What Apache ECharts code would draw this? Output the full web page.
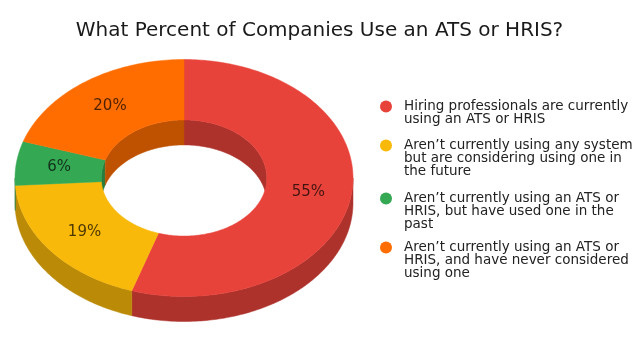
<!DOCTYPE html>
<html>
<head>
<meta charset="utf-8">
<script src="https://cdn.jsdelivr.net/npm/echarts@6/dist/echarts.min.js"></script>
<style>
html,body{margin:0;padding:0;background:#fff;}
#chart{width:639px;height:338px;}
</style>
</head>
<body>
<div id="chart"></div>
<script>
const titleText = 'What Percent of Companies Use an ATS or HRIS?';
const categories = [
  'Hiring professionals are currently using an ATS or HRIS',
  'Aren\u2019t currently using any system but are considering using one in the future',
  'Aren\u2019t currently using an ATS or HRIS, but have used one in the past',
  'Aren\u2019t currently using an ATS or HRIS, and have never considered using one'
];
const legendLines = [
  ['Hiring professionals are currently', 'using an ATS or HRIS'],
  ['Aren\u2019t currently using any system', 'but are considering using one in', 'the future'],
  ['Aren\u2019t currently using an ATS or', 'HRIS, but have used one in the', 'past'],
  ['Aren\u2019t currently using an ATS or', 'HRIS, and have never considered', 'using one']
];
const values = [55, 19, 6, 20];
const colors = ['#E8433A', '#F9B90A', '#34A853', '#FF6D00'];

// layout constants (pixels)
const CX = 184, CY = 178, RX = 169, RY = 118.5, DEPTH = 25, HOLE = 0.49;
const SHADE = 0.75;
const LEGEND_LEFT = 380, LEGEND_DOT_Y = [106, 145, 198, 247], LINE_H = 13;

function darken(hex, f) {
  const n = parseInt(hex.slice(1), 16);
  const r = Math.round(((n >> 16) & 255) * f);
  const g = Math.round(((n >> 8) & 255) * f);
  const b = Math.round((n & 255) * f);
  return 'rgb(' + r + ',' + g + ',' + b + ')';
}

function pt(rx, ry, deg, dy) {
  const t = deg * Math.PI / 180;
  return [CX + rx * Math.sin(t), CY - ry * Math.cos(t) + dy];
}
function arc(rx, ry, from, to, dy) {
  const n = Math.max(2, Math.ceil(Math.abs(to - from) / 1));
  const out = [];
  for (let j = 0; j <= n; j++) out.push(pt(rx, ry, from + (to - from) * j / n, dy));
  return out;
}

function renderSlice(i) {
  return function (params, api) {
    const total = values.reduce((a, b) => a + b, 0);
    let start = 0;
    for (let k = 0; k < i; k++) start += values[k];
    const v = api.value(0);
    const a0 = start / total * 360;
    const a1 = (start + v) / total * 360;
    const top = colors[i];
    const side = darken(colors[i], SHADE);
    const irx = RX * HOLE, iry = RY * HOLE;
    const children = [];
    // outer front wall
    const fs = Math.max(a0, 90), fe = Math.min(a1, 270);
    if (fe > fs) {
      children.push({
        type: 'polygon', z2: 1,
        shape: { points: arc(RX, RY, fs, fe, 0).concat(arc(RX, RY, fe, fs, DEPTH)) },
        style: { fill: side, stroke: side, lineWidth: 0.5 }
      });
    }
    // inner back wall
    [[0, 90], [270, 360]].forEach(function (r) {
      const s = Math.max(a0, r[0]), e = Math.min(a1, r[1]);
      if (e > s) {
        children.push({
          type: 'polygon', z2: 1,
          shape: { points: arc(irx, iry, s, e, 0).concat(arc(irx, iry, e, s, DEPTH)) },
          style: { fill: side, stroke: side, lineWidth: 0.5 }
        });
      }
    });
    // top face
    children.push({
      type: 'polygon', z2: 5,
      shape: { points: arc(RX, RY, a0, a1, 0).concat(arc(irx, iry, a1, a0, 0)) },
      style: { fill: top, stroke: top, lineWidth: 0.5 }
    });
    // label
    const mid = (a0 + a1) / 2, rm = (1 + HOLE) / 2;
    const p = pt(RX * rm, RY * rm, mid, 0);
    children.push({
      type: 'text', z2: 10, x: p[0], y: p[1],
      style: {
        text: v + '%', fill: 'rgba(0,0,0,0.7)',
        font: '15px "DejaVu Sans"', align: 'center', verticalAlign: 'middle'
      }
    });
    return { type: 'group', children: children };
  };
}

const legends = categories.map(function (c, i) {
  const n = legendLines[i].length;
  return {
    orient: 'vertical', left: LEGEND_LEFT,
    top: LEGEND_DOT_Y[i] - (2 * n - 1) * LINE_H / 2,
    padding: 0, itemWidth: 12, itemHeight: 12, icon: 'circle',
    selectedMode: false,
    data: [c],
    formatter: function () {
      const pad = [];
      for (let k = 1; k < n; k++) pad.push(' ');
      return pad.concat(legendLines[i]).join('\n');
    },
    textStyle: {
      fontFamily: 'DejaVu Sans', fontSize: 13.5, lineHeight: LINE_H, color: '#222',
      padding: [0, 0, 0, 7]
    }
  };
});

const chart = echarts.init(document.getElementById('chart'), null, { renderer: 'canvas' });
chart.setOption({
  backgroundColor: '#ffffff',
  animation: false,
  title: {
    text: titleText, left: 'center', top: 21, padding: 0,
    textStyle: { fontFamily: 'DejaVu Sans', fontSize: 20, fontWeight: 'normal', color: '#1a1a1a' }
  },
  legend: legends,
  series: categories.map(function (c, i) {
    return {
      type: 'custom', name: c, coordinateSystem: 'none',
      data: [values[i]], renderItem: renderSlice(i),
      itemStyle: { color: colors[i] }
    };
  })
});
</script>
</body>
</html>
